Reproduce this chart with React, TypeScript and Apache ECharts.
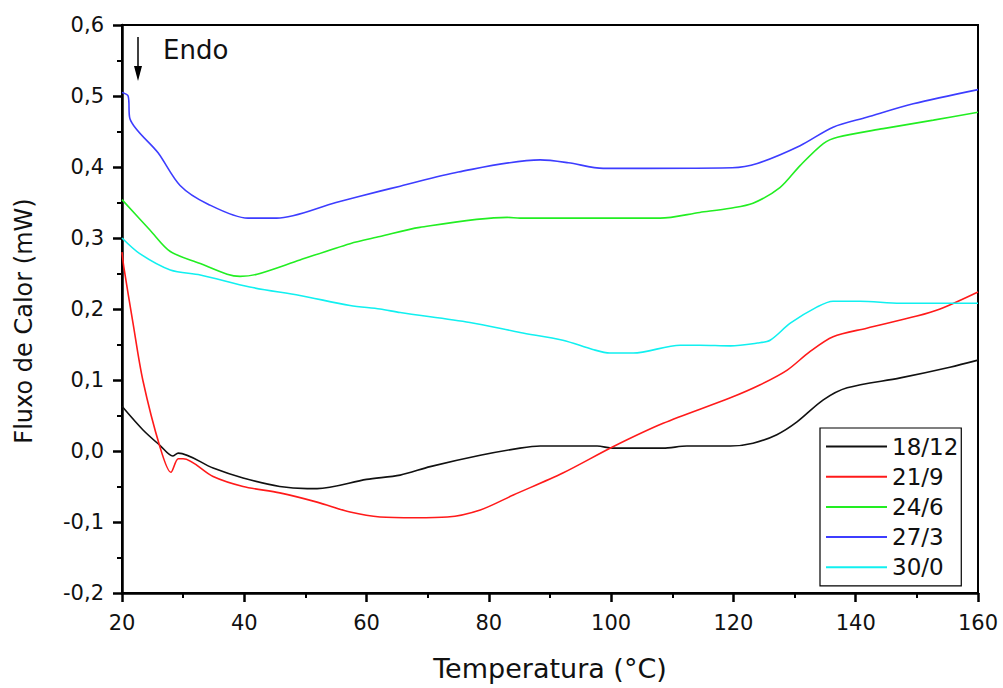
import React, { useEffect, useRef } from "react";
import * as echarts from "echarts";

const seriesNames = ["18/12", "21/9", "24/6", "27/3", "30/0"];
const seriesColors = ["#111111", "#ff1a1a", "#22ee22", "#3d3dff", "#11f0f0"];

const s1812: [number, number][] = [
  [20, 0.063], [23.4, 0.03], [26.2, 0.008], [28.3, -0.007], [29.2, -0.003], [34.9, -0.024],
  [39.8, -0.038], [45.8, -0.05], [50.3, -0.053], [51.9, -0.053], [60, -0.04], [65.5, -0.034],
  [70.4, -0.022], [78.6, -0.006], [85.1, 0.004], [88.4, 0.007], [97.7, 0.007], [100.3, 0.004],
  [108.5, 0.004], [112.4, 0.007], [119.5, 0.007], [123.2, 0.011], [127.1, 0.023], [130.4, 0.041],
  [134.7, 0.072], [138.6, 0.089], [147.3, 0.103], [155.4, 0.118], [160, 0.128],
];

const s219: [number, number][] = [
  [20, 0.28], [20.3, 0.259], [21.8, 0.18], [23.4, 0.1], [26.2, 0.006], [28, -0.03],
  [29.2, -0.011], [30, -0.011], [34.9, -0.036], [39.8, -0.05], [45.8, -0.059], [51.9, -0.072],
  [57.3, -0.086], [62.2, -0.093], [68, -0.094], [73.2, -0.093], [78.6, -0.083], [84, -0.062],
  [92.1, -0.031], [100.3, 0.006], [108.5, 0.039], [119.5, 0.075], [124.3, 0.093], [128.8, 0.114],
  [132.5, 0.14], [136.3, 0.161], [141.8, 0.173], [150, 0.19], [153.8, 0.2], [160, 0.224],
];

const s246: [number, number][] = [
  [20, 0.354], [24.6, 0.311], [27.9, 0.281], [32.8, 0.264], [37.2, 0.249], [39.3, 0.246],
  [42.1, 0.249], [49.1, 0.269], [57.3, 0.292], [62.2, 0.302], [68.7, 0.315], [83, 0.329],
  [85.1, 0.328], [108, 0.328], [114.5, 0.336], [119.5, 0.342], [123.2, 0.349], [127.6, 0.371],
  [130.9, 0.402], [134.7, 0.433], [137, 0.442], [144.5, 0.454], [152.7, 0.466], [160, 0.477],
];

const s273: [number, number][] = [
  [20, 0.505], [21, 0.5], [21.3, 0.468], [25.9, 0.42], [29.5, 0.374], [34, 0.348],
  [40.6, 0.328], [45.3, 0.328], [55, 0.35], [62.2, 0.366], [65.5, 0.373], [75, 0.393],
  [88.4, 0.41], [93, 0.406], [98.7, 0.398], [119.8, 0.399], [123.9, 0.405], [130.9, 0.43],
  [136.3, 0.456], [141.8, 0.47], [149.4, 0.489], [160, 0.509],
];

const s300: [number, number][] = [
  [20, 0.3], [22.9, 0.278], [27.9, 0.255], [32.8, 0.248], [40.9, 0.231], [49.1, 0.219],
  [57.3, 0.205], [62.2, 0.2], [65.5, 0.195], [76.9, 0.181], [85.1, 0.167], [92.1, 0.156],
  [97, 0.143], [99.8, 0.138], [103.6, 0.138], [111.3, 0.149], [114.5, 0.149], [119.5, 0.148],
  [123.9, 0.152], [126, 0.156], [129.3, 0.18], [133.7, 0.203], [136.3, 0.211], [140.7, 0.211],
  [147.3, 0.208], [160, 0.208],
];

const allSeries = [s1812, s219, s246, s273, s300];

const xTicks = { min: 20, max: 160, interval: 20 };
const yTicks = { min: -0.2, max: 0.6, interval: 0.1 };

const FONT = "'DejaVu Sans', 'Liberation Sans', Arial, sans-serif";

export default function App() {
  const ref = useRef<HTMLDivElement>(null);
  useEffect(() => {
    if (!ref.current) return;
    const chart = echarts.init(ref.current, null, { renderer: "svg" });
    chart.setOption({
      animation: false,
      backgroundColor: "#ffffff",
      textStyle: { fontFamily: FONT },
      grid: {
        left: 122, right: 25, top: 25, bottom: 95,
        show: true, borderColor: "#000", borderWidth: 2, backgroundColor: "transparent",
      },
      legend: {
        left: 820, top: 428, orient: "vertical",
        padding: [7, 3, 7, 6], itemGap: 7.2,
        itemWidth: 61, itemHeight: 2, icon: "rect",
        borderColor: "#000", borderWidth: 1.2, borderRadius: 0,
        backgroundColor: "#fff",
        data: seriesNames,
        textStyle: {
          fontSize: 23, color: "#111", fontFamily: FONT,
          width: 76, align: "center",
        },
      },
      xAxis: {
        type: "value", min: xTicks.min, max: xTicks.max, interval: xTicks.interval,
        name: "Temperatura (°C)", nameLocation: "middle", nameGap: 62,
        nameTextStyle: { fontSize: 27, color: "#111", fontFamily: FONT },
        axisLine: { show: true, onZero: false, lineStyle: { color: "#000", width: 2.5 } },
        axisTick: { show: true, length: 9, lineStyle: { color: "#000", width: 2.5 } },
        minorTick: { show: true, splitNumber: 2, length: 5, lineStyle: { color: "#000", width: 2 } },
        splitLine: { show: false },
        axisLabel: { fontSize: 21, color: "#111", margin: 19, fontFamily: FONT },
      },
      yAxis: {
        type: "value", min: yTicks.min, max: yTicks.max, interval: yTicks.interval,
        name: "Fluxo de Calor (mW)", nameLocation: "middle", nameGap: 86, nameRotate: 90,
        nameTextStyle: { fontSize: 24, color: "#111", fontFamily: FONT, padding: [0, 24, 0, 0] },
        axisLine: { show: true, onZero: false, lineStyle: { color: "#000", width: 2.5 } },
        axisTick: { show: true, length: 9, lineStyle: { color: "#000", width: 2.5 } },
        minorTick: { show: true, splitNumber: 2, length: 5, lineStyle: { color: "#000", width: 2 } },
        splitLine: { show: false },
        axisLabel: {
          fontSize: 21, color: "#111", margin: 18, fontFamily: FONT,
          formatter: (v: number) => v.toFixed(1).replace(".", ","),
        },
      },
      series: allSeries.map((d, i) => ({
        name: seriesNames[i],
        type: "line",
        data: d,
        showSymbol: false,
        symbol: "none",
        smooth: 0.3,
        lineStyle: { color: seriesColors[i], width: 1.6 },
        itemStyle: { color: seriesColors[i] },
      })),
      graphic: [
        { type: "line", shape: { x1: 138, y1: 37, x2: 138, y2: 72 }, style: { stroke: "#000", lineWidth: 1.5 } },
        { type: "polygon", shape: { points: [[134, 66], [142, 66], [138, 81]] }, style: { fill: "#000" } },
        {
          type: "text", left: 163, top: 37,
          style: { text: "Endo", fontSize: 26, fill: "#111", fontFamily: FONT },
        },
      ],
    });
    return () => chart.dispose();
  }, []);
  return <div ref={ref} style={{ width: 1003, height: 688, position: "absolute", left: 0, top: 0 }} />;
}
